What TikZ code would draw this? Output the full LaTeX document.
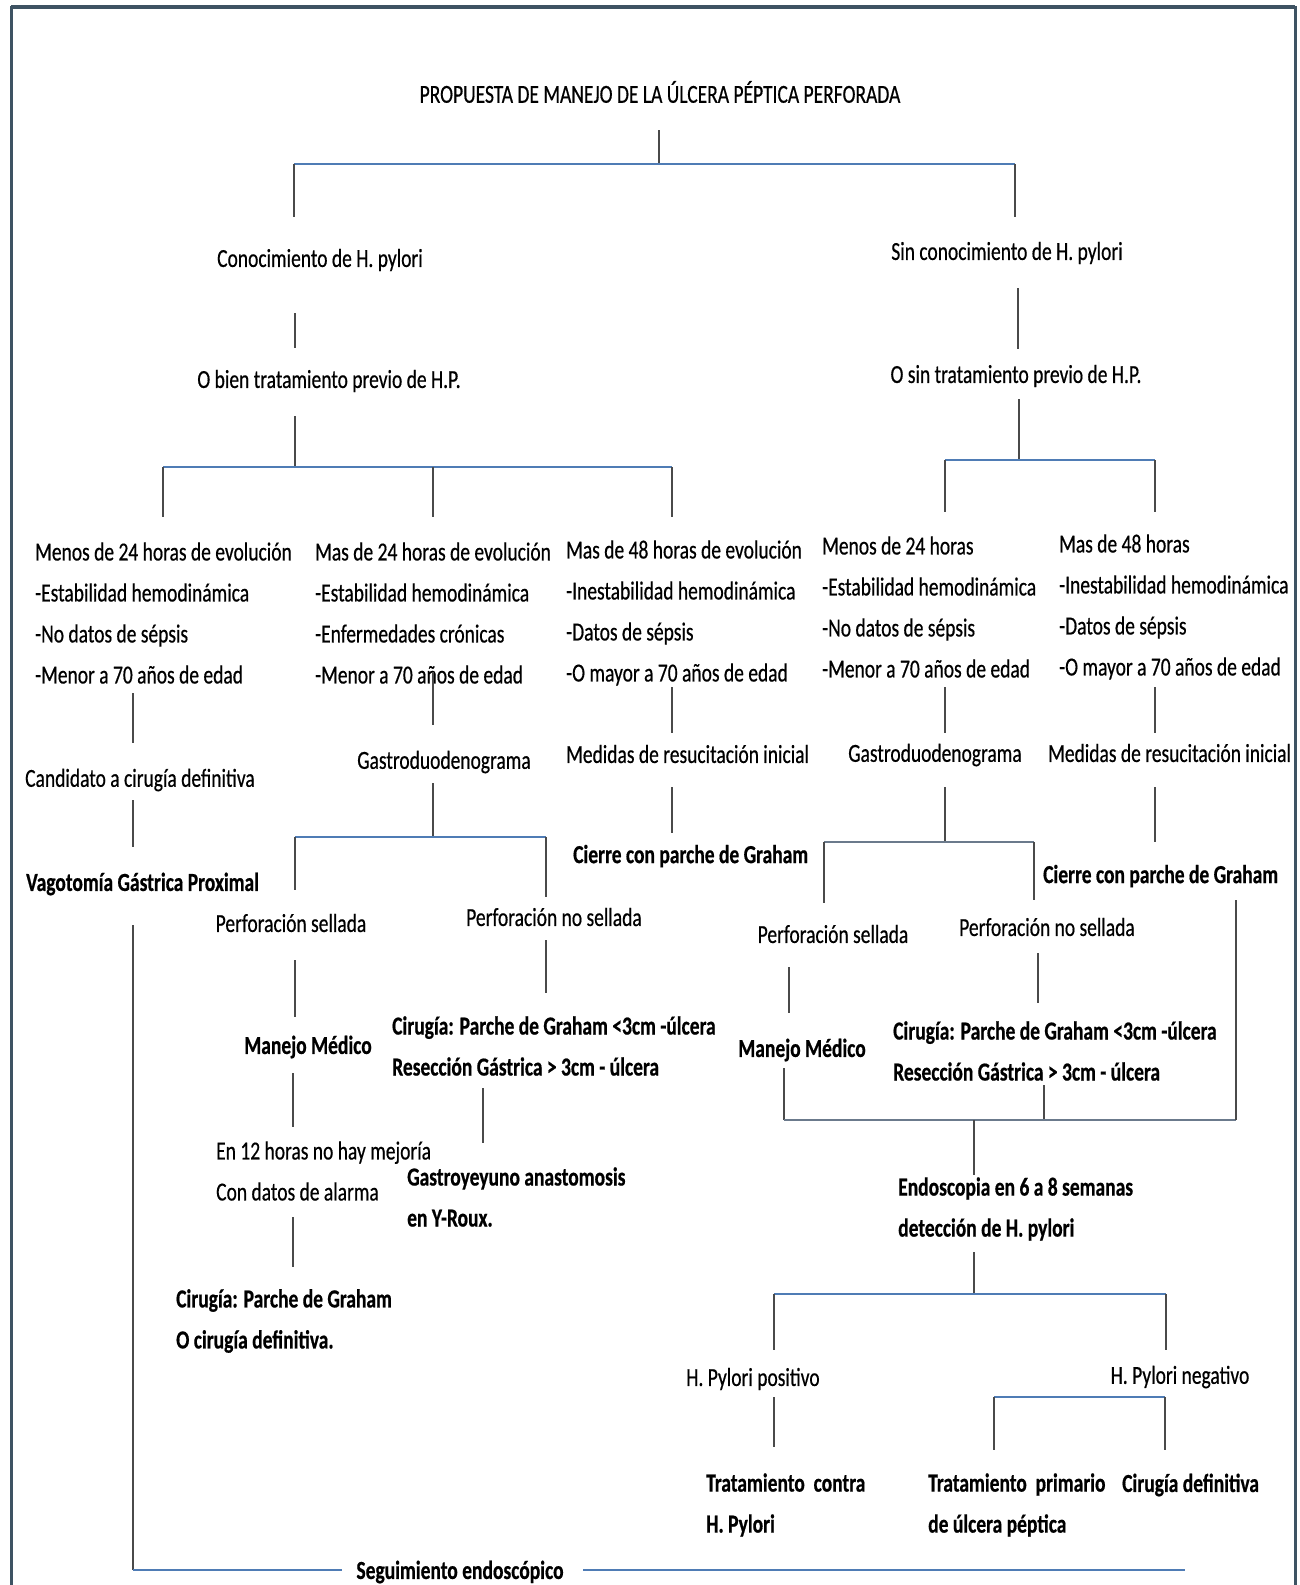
\documentclass[tikz,border=0pt]{standalone}
\usepackage{fontspec}
\setmainfont{Carlito}[FakeStretch=0.75, UprightFeatures={FakeBold=0.5}, BoldFeatures={FakeBold=0.6}]
\definecolor{frm}{HTML}{3E5363}
\definecolor{hblue}{HTML}{4F7CB5}
\definecolor{hgrey}{HTML}{6B7A8C}
\definecolor{vgrey}{HTML}{4A4A4A}
\begin{document}
\begin{tikzpicture}[x=1pt,y=-1pt,
  txt/.style={inner sep=0pt, font=\fontsize{26}{41}\selectfont, align=left},
  bt/.style={inner sep=0pt, font=\fontsize{26}{41}\selectfont\bfseries, align=left},
  vl/.style={draw=vgrey, line width=1.3pt},
  hl/.style={draw=hblue, line width=2.6pt},
  hg/.style={draw=hgrey, line width=2.2pt}]
\useasboundingbox (0,0) rectangle (1299,1585);
\fill[white] (0,0) rectangle (1299,1585);
% frame
\draw[frm, line width=3pt] (11,1585) -- (11,7) -- (1295,7) -- (1295,1585);
\draw[frm, line width=4.5pt] (11,7) -- (1295,7);

% ---- nodes
\node[txt] (title) at (660,92) {PROPUESTA DE MANEJO DE LA ÚLCERA PÉPTICA PERFORADA};
\node[txt] (conoc) at (320,260) {Conocimiento de H. pylori};
\node[txt] (obien) at (329,381) {O bien tratamiento previo de H.P.};
\node[txt] (sinc) at (1007,253) {Sin conocimiento de H. pylori};
\node[txt] (osin) at (1016,376) {O sin tratamiento previo de H.P.};

\node[txt,anchor=west] (a) at (35,613) {Menos de 24 horas de evolución\\-Estabilidad hemodinámica\\-No datos de sépsis\\-Menor a 70 años de edad};
\node[txt,anchor=west] (b) at (315,613) {Mas de 24 horas de evolución\\-Estabilidad hemodinámica\\-Enfermedades crónicas\\-Menor a 70 años de edad};
\node[txt,anchor=west] (c) at (566,613) {Mas de 48 horas de evolución\\-Inestabilidad hemodinámica\\-Datos de sépsis\\-O mayor a 70 años de edad};
\node[txt,anchor=west] (d) at (822,607) {Menos de 24 horas\\-Estabilidad hemodinámica\\-No datos de sépsis\\-Menor a 70 años de edad};
\node[txt,anchor=west] (e) at (1059,607) {Mas de 48 horas\\-Inestabilidad hemodinámica\\-Datos de sépsis\\-O mayor a 70 años de edad};

\node[txt,anchor=west] (cand) at (25,780) {Candidato a cirugía definitiva};
\node[bt,anchor=west] (vago) at (26,884) {Vagotomía Gástrica Proximal};
\node[txt] (gastb) at (444,762) {Gastroduodenograma};
\node[txt,anchor=west] (medc) at (566,754) {Medidas de resucitación inicial};
\node[bt,anchor=west] (cierc) at (573,856) {Cierre con parche de Graham};
\node[txt] (gastd) at (935,755) {Gastroduodenograma};
\node[txt,anchor=west] (mede) at (1048,753) {Medidas de resucitación inicial};
\node[bt,anchor=west] (cierre) at (1043,876) {Cierre con parche de Graham};

\node[txt] (psb) at (291,923) {Perforación sellada};
\node[txt] (pnsb) at (554,917) {Perforación no sellada};
\node[bt] (mmb) at (308,1047) {Manejo Médico};
\node[bt,anchor=west] (cirb) at (392,1046) {Cirugía: Parche de Graham <3cm -úlcera\\Resección Gástrica > 3cm - úlcera};
\node[txt,anchor=west] (en12) at (216,1171) {En 12 horas no hay mejoría\\Con datos de alarma};
\node[bt,anchor=west] (gyy) at (407,1197) {Gastroyeyuno anastomosis\\en Y-Roux.};
\node[bt,anchor=west] (cirf) at (176,1321) {Cirugía: Parche de Graham\\O cirugía definitiva.};

\node[txt] (psd) at (833,934) {Perforación sellada};
\node[txt] (pnsd) at (1047,927) {Perforación no sellada};
\node[bt] (mmd) at (802,1050) {Manejo Médico};
\node[bt,anchor=west] (cird) at (893,1051) {Cirugía: Parche de Graham <3cm -úlcera\\Resección Gástrica > 3cm - úlcera};
\node[bt,anchor=west] (endo) at (898,1209) {Endoscopia en 6 a 8 semanas\\detección de H. pylori};
\node[txt] (hpp) at (753,1379) {H. Pylori positivo};
\node[txt] (hpn) at (1180,1377) {H. Pylori negativo};
\node[bt,anchor=west] (tcon) at (706,1505) {Tratamiento\ \ contra\\H. Pylori};
\node[bt,anchor=west] (tpri) at (928,1505) {Tratamiento\ \ primario\\de úlcera péptica};
\node[bt,anchor=west] (cdef) at (1122,1485) {Cirugía definitiva};
\node[bt] (seg) at (460,1572) {Seguimiento endoscópico};

% ---- junction coordinates
\coordinate (t1) at (659,130);
\coordinate (j1) at (659,164);
\coordinate (jl) at (294,164);
\coordinate (jr) at (1015,164);
\coordinate (jl2) at (294,217);
\coordinate (jr2) at (1015,217);
\coordinate (k1) at (295,313); \coordinate (k2) at (295,348);
\coordinate (k3) at (295,416); \coordinate (k4) at (295,467);
\coordinate (ka) at (163,467); \coordinate (kb) at (433,467); \coordinate (kc) at (672,467);
\coordinate (m1) at (1018,288); \coordinate (m2) at (1018,349);
\coordinate (m3) at (1019,399); \coordinate (m4) at (1019,460);
\coordinate (md) at (945,460); \coordinate (me) at (1155,460);
\coordinate (s1) at (133,1570); \coordinate (s2) at (342,1570);
\coordinate (s3) at (583,1570); \coordinate (s4) at (1185,1570);

% ---- connectors
\draw[vl] (t1) -- (j1);
\draw[hl] (jl) -- (jr);
\draw[vl] (jl) -- (jl2);
\draw[vl] (jr) -- (jr2);
\draw[vl] (k1) -- (k2);
\draw[vl] (k3) -- (k4);
\draw[hl] (ka) -- (kc);
\draw[vl] (ka) -- (163,517);
\draw[vl] (kb) -- (433,517);
\draw[vl] (kc) -- (672,517);
\draw[vl] (m1) -- (m2);
\draw[vl] (m3) -- (m4);
\draw[hl] (md) -- (me);
\draw[vl] (md) -- (945,512);
\draw[vl] (me) -- (1155,512);

% column A
\draw[vl] (133,693) -- (133,743);
\draw[vl] (133,800) -- (133,847);
\draw[vl] (133,925) -- (s1);
\draw[hl] (s1) -- (s2);
\draw[hl] (s3) -- (s4);

% column B
\draw[vl] (433,672) -- (433,725);
\draw[vl] (433,783) -- (433,837);
\draw[hl] (295,837) -- (546,837);
\draw[vl] (295,837) -- (295,890);
\draw[vl] (546,837) -- (546,897);
\draw[vl] (295,960) -- (295,1017);
\draw[vl] (546,940) -- (546,993);
\draw[vl] (293,1073) -- (293,1127);
\draw[vl] (483,1088) -- (483,1143);
\draw[vl] (293,1217) -- (293,1267);

% column C
\draw[vl] (672,687) -- (672,733);
\draw[vl] (672,787) -- (672,833);

% column D
\draw[vl] (945,687) -- (945,733);
\draw[vl] (945,787) -- (945,842);
\draw[hg] (824,842) -- (1034,842);
\draw[vl] (824,842) -- (824,903);
\draw[vl] (1034,842) -- (1034,900);
\draw[vl] (789,967) -- (789,1013);
\draw[vl] (1038,953) -- (1038,1003);
\draw[vl] (784,1068) -- (784,1120);
\draw[vl] (1044,1085) -- (1044,1120);
\draw[hg] (784,1120) -- (1236,1120);
\draw[vl] (1236,900) -- (1236,1120);
\draw[vl] (974,1120) -- (974,1175);

% column E
\draw[vl] (1155,687) -- (1155,733);
\draw[vl] (1155,787) -- (1155,842);

% endoscopy subtree
\draw[vl] (974,1252) -- (974,1294);
\draw[hl] (774,1294) -- (1166,1294);
\draw[vl] (774,1294) -- (774,1350);
\draw[vl] (1166,1294) -- (1166,1350);
\draw[vl] (774,1397) -- (774,1447);
\draw[hl] (994,1397) -- (1165,1397);
\draw[vl] (994,1397) -- (994,1450);
\draw[vl] (1165,1397) -- (1165,1450);
\end{tikzpicture}
\end{document}
